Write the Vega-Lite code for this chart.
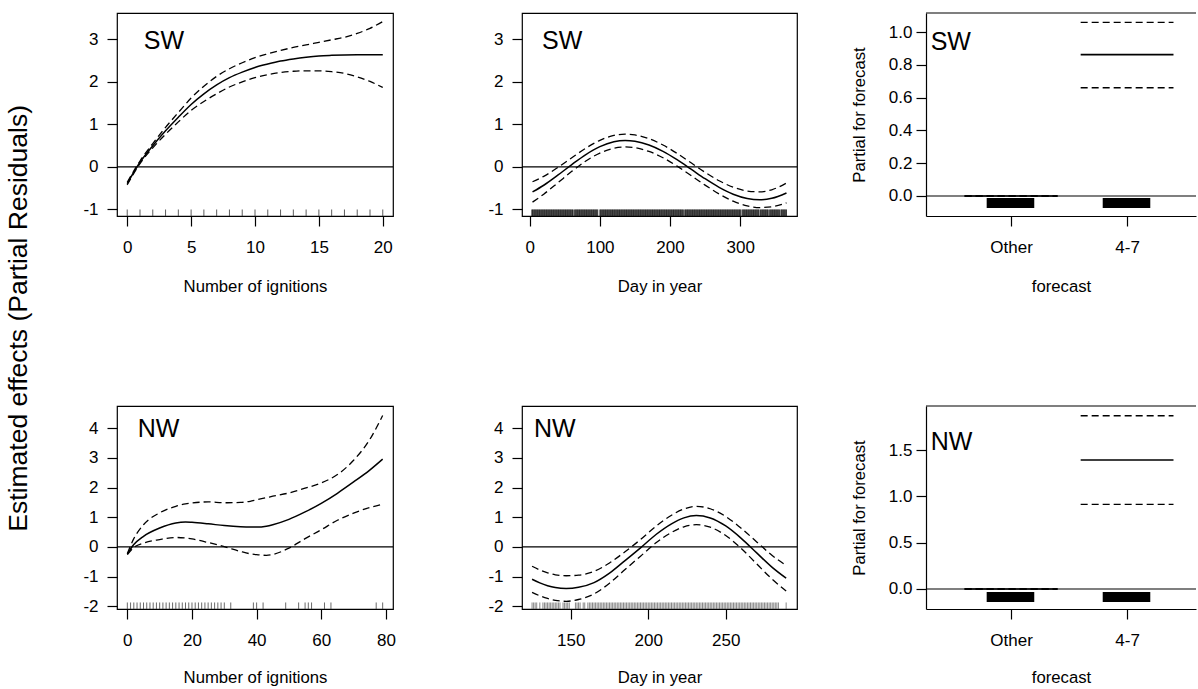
{
 "$schema": "https://vega.github.io/schema/vega-lite/v6.json",
 "padding": {"left": 5, "top": 12, "right": 0, "bottom": 0},
 "title": {"text": "Estimated effects (Partial Residuals)", "orient": "left", "anchor": "middle", "fontSize": 26.5, "font": "Liberation Sans", "fontWeight": "normal", "color": "black", "offset": 50, "dx": 31},
 "config": {
  "view": {"stroke": "black", "strokeWidth": 1.2},
  "axis": {"labelFont": "Liberation Sans", "titleFont": "Liberation Sans", "labelFontSize": 17, "titleFontSize": 16.7, "titleFontWeight": "normal", "labelColor": "black", "titleColor": "black", "tickColor": "black", "tickSize": 10, "tickWidth": 1.2, "grid": false, "domain": false, "domainColor": "black", "domainWidth": 1.2, "tickCount": 12},
  "axisX": {"labelPadding": 13, "titlePadding": 23, "labelFlush": false, "labelOverlap": false},
  "axisY": {"labelPadding": 9, "titlePadding": 22, "labelOverlap": false}
 },
 "columns": 3,
 "spacing": {"row": 190, "column": 129},
 "bounds": "flush",
 "align": "each",
 "concat": [
   {"width": 276, "height": 203,
    "layer": [
     {"data": {"values": [
       {"x":0,"fit":-0.39,"upper":-0.36,"lower":-0.42},{"x":1,"fit":0.11,"upper":0.14,"lower":0.08},{"x":2,"fit":0.50,"upper":0.55,"lower":0.45},{"x":3,"fit":0.85,"upper":0.93,"lower":0.77},{"x":4,"fit":1.17,"upper":1.28,"lower":1.06},{"x":5,"fit":1.47,"upper":1.62,"lower":1.33},{"x":6,"fit":1.72,"upper":1.90,"lower":1.54},{"x":7,"fit":1.93,"upper":2.13,"lower":1.72},{"x":8,"fit":2.10,"upper":2.31,"lower":1.88},{"x":9,"fit":2.23,"upper":2.45,"lower":2.00},{"x":10,"fit":2.34,"upper":2.57,"lower":2.10},{"x":11,"fit":2.42,"upper":2.66,"lower":2.17},{"x":12,"fit":2.49,"upper":2.74,"lower":2.22},{"x":13,"fit":2.54,"upper":2.81,"lower":2.25},{"x":14,"fit":2.58,"upper":2.87,"lower":2.26},{"x":15,"fit":2.61,"upper":2.93,"lower":2.26},{"x":16,"fit":2.625,"upper":2.99,"lower":2.24},{"x":17,"fit":2.635,"upper":3.05,"lower":2.20},{"x":18,"fit":2.64,"upper":3.14,"lower":2.12},{"x":19,"fit":2.64,"upper":3.26,"lower":2.01},{"x":20,"fit":2.64,"upper":3.42,"lower":1.87}]},
      "layer": [
       {"mark": {"type": "line", "color": "black", "strokeWidth": 1.5, "interpolate": "monotone"},
        "encoding": {"x": {"field": "x", "type": "quantitative", "scale": {"domain": [-0.8, 20.8], "nice": false, "zero": false}, "axis": {"values": [0,5,10,15,20], "title": "Number of ignitions"}},
                     "y": {"field": "fit", "type": "quantitative", "scale": {"domain": [-1.153, 3.62], "nice": false, "zero": false}, "axis": {"values": [-1,0,1,2,3], "tickCount": 12, "labelExpr": "'' + datum.value", "title": null}}}},
       {"mark": {"type": "line", "color": "black", "strokeWidth": 1.3, "strokeDash": [7,4], "interpolate": "monotone"},
        "encoding": {"x": {"field": "x", "type": "quantitative"}, "y": {"field": "upper", "type": "quantitative"}}},
       {"mark": {"type": "line", "color": "black", "strokeWidth": 1.3, "strokeDash": [7,4], "interpolate": "monotone"},
        "encoding": {"x": {"field": "x", "type": "quantitative"}, "y": {"field": "lower", "type": "quantitative"}}}
      ]},
     {"data": {"values": [{}]}, "mark": {"type": "rule", "color": "black", "strokeWidth": 1.2}, "encoding": {"y": {"datum": 0}}},
     {"data": {"values": [0,1,2,3,4,5,6,7,8,9,10,11,12,13,14,15,16,17,18,19,20]},
      "mark": {"type": "rule", "color": "#333", "strokeWidth": 0.8},
      "encoding": {"x": {"field": "data", "type": "quantitative"}, "y": {"datum": -1.153}, "y2": {"datum": -1.0}}},
     {"data": {"values": [{}]}, "mark": {"type": "text", "align": "left", "baseline": "alphabetic", "font": "Liberation Sans", "fontSize": 25, "color": "black"},
      "encoding": {"x": {"datum": 1.3}, "y": {"datum": 2.78}, "text": {"value": "SW"}}}
    ]},
   {"width": 275, "height": 203,
    "layer": [
     {"data": {"values": [
       {"x":4,"fit":-0.587,"upper":-0.347,"lower":-0.827},{"x":20,"fit":-0.43,"upper":-0.22,"lower":-0.64},{"x":40,"fit":-0.194,"upper":-0.014,"lower":-0.374},{"x":60,"fit":0.057,"upper":0.217,"lower":-0.103},{"x":80,"fit":0.291,"upper":0.441,"lower":0.141},{"x":100,"fit":0.477,"upper":0.627,"lower":0.327},{"x":120,"fit":0.591,"upper":0.741,"lower":0.441},{"x":136,"fit":0.62,"upper":0.77,"lower":0.47},{"x":150,"fit":0.602,"upper":0.752,"lower":0.452},{"x":170,"fit":0.515,"upper":0.665,"lower":0.365},{"x":190,"fit":0.366,"upper":0.516,"lower":0.216},{"x":210,"fit":0.17,"upper":0.32,"lower":0.02},{"x":230,"fit":-0.052,"upper":0.098,"lower":-0.202},{"x":250,"fit":-0.277,"upper":-0.127,"lower":-0.427},{"x":270,"fit":-0.479,"upper":-0.324,"lower":-0.634},{"x":290,"fit":-0.64,"upper":-0.475,"lower":-0.805},{"x":310,"fit":-0.74,"upper":-0.565,"lower":-0.915},{"x":328,"fit":-0.77,"upper":-0.585,"lower":-0.955},{"x":345,"fit":-0.737,"upper":-0.537,"lower":-0.937},{"x":366,"fit":-0.611,"upper":-0.376,"lower":-0.846}]},
      "layer": [
       {"mark": {"type": "line", "color": "black", "strokeWidth": 1.5, "interpolate": "monotone"},
        "encoding": {"x": {"field": "x", "type": "quantitative", "scale": {"domain": [-11, 381], "nice": false, "zero": false}, "axis": {"values": [0,100,200,300], "title": "Day in year"}},
                     "y": {"field": "fit", "type": "quantitative", "scale": {"domain": [-1.153, 3.62], "nice": false, "zero": false}, "axis": {"values": [-1,0,1,2,3], "tickCount": 12, "labelExpr": "'' + datum.value", "title": null}}}},
       {"mark": {"type": "line", "color": "black", "strokeWidth": 1.3, "strokeDash": [7,4], "interpolate": "monotone"},
        "encoding": {"x": {"field": "x", "type": "quantitative"}, "y": {"field": "upper", "type": "quantitative"}}},
       {"mark": {"type": "line", "color": "black", "strokeWidth": 1.3, "strokeDash": [7,4], "interpolate": "monotone"},
        "encoding": {"x": {"field": "x", "type": "quantitative"}, "y": {"field": "lower", "type": "quantitative"}}}
      ]},
     {"data": {"values": [{}]}, "mark": {"type": "rule", "color": "black", "strokeWidth": 1.2}, "encoding": {"y": {"datum": 0}}},
     {"data": {"values": [3,4,5,6,7,8,9,10,11,12,13,14,15,16,17,18,19,20,21,22,23,24,25,26,27,28,29,30,31,32,33,34,35,36,37,38,39,40,41,42,43,44,45,46,47,48,49,50,51,52,53,54,55,56,57,58,59,60,61,62,64,65,66,67,68,69,70,71,72,73,74,75,76,77,78,79,80,81,82,83,84,85,86,87,88,89,90,91,92,93,94,95,96,97,100,101,102,103,104,105,106,107,108,109,110,111,112,113,114,115,116,117,118,119,120,121,122,123,124,125,126,127,128,129,130,131,132,133,134,135,136,137,138,139,140,141,142,143,144,145,146,147,148,149,150,151,152,153,154,155,156,157,158,159,160,161,162,163,164,165,166,167,168,169,170,171,172,173,174,175,176,177,178,179,180,181,182,183,184,185,186,187,188,189,190,191,192,193,194,195,196,197,198,199,200,201,202,203,204,205,206,207,208,209,210,211,212,213,214,215,216,217,218,219,221,222,223,224,225,226,227,228,229,230,231,232,233,234,235,236,237,238,239,240,241,242,243,244,245,246,247,248,249,250,251,252,253,254,255,256,257,258,259,260,261,262,263,264,265,266,267,268,269,270,271,272,273,274,275,276,277,278,279,280,281,282,283,284,285,286,287,288,289,290,291,292,293,294,295,296,297,298,299,300,301,303,304,305,306,307,308,309,310,311,312,313,314,315,316,317,318,319,320,321,322,323,324,325,326,327,329,330,331,332,333,334,335,336,337,338,339,340,342,343,344,345,346,347,348,349,350,351,352,353,354,355,356,358,359,360,361,362,363,364,365,366]},
      "mark": {"type": "rule", "color": "#111", "strokeWidth": 0.8},
      "encoding": {"x": {"field": "data", "type": "quantitative"}, "y": {"datum": -1.153}, "y2": {"datum": -1.0}}},
     {"data": {"values": [{}]}, "mark": {"type": "text", "align": "left", "baseline": "alphabetic", "font": "Liberation Sans", "fontSize": 25, "color": "black"},
      "encoding": {"x": {"datum": 17.5}, "y": {"datum": 2.78}, "text": {"value": "SW"}}}
    ]},
   {"width": 270, "height": 203, "view": {"stroke": null},
    "layer": [
     {"data": {"values": [{"level":"Other","xlo":0.6,"xhi":1.4,"fit":0,"upper":0,"lower":0,"jlo":0.79,"jhi":1.2},{"level":"4-7","xlo":1.6,"xhi":2.4,"fit":0.862,"upper":1.059,"lower":0.66,"jlo":1.79,"jhi":2.2}]},
      "layer": [
       {"mark": {"type": "rule", "color": "black", "strokeWidth": 1.6},
        "encoding": {"x": {"field": "xlo", "type": "quantitative", "scale": {"domain": [0.267, 2.594], "nice": false, "zero": false}, "axis": {"values": [1,2], "labelExpr": "datum.value == 1 ? 'Other' : '4-7'", "title": "forecast", "domain": true}},
                     "x2": {"field": "xhi"},
                     "y": {"field": "fit", "type": "quantitative", "scale": {"domain": [-0.122, 1.116], "nice": false, "zero": false}, "axis": {"values": [0,0.2,0.4,0.6,0.8,1.0], "tickCount": 12, "format": ".1f", "title": "Partial for forecast", "domain": true, "labelPadding": 4, "titlePadding": 20}}}},
       {"mark": {"type": "rule", "color": "black", "strokeWidth": 1.3, "strokeDash": [7,4]},
        "encoding": {"x": {"field": "xlo", "type": "quantitative"}, "x2": {"field": "xhi"}, "y": {"field": "upper", "type": "quantitative"}}},
       {"mark": {"type": "rule", "color": "black", "strokeWidth": 1.3, "strokeDash": [7,4]},
        "encoding": {"x": {"field": "xlo", "type": "quantitative"}, "x2": {"field": "xhi"}, "y": {"field": "lower", "type": "quantitative"}}},
       {"mark": {"type": "rect", "color": "black"},
        "encoding": {"x": {"field": "jlo", "type": "quantitative"}, "x2": {"field": "jhi"}, "y": {"datum": -0.012}, "y2": {"datum": -0.073}}}
      ]},
     {"data": {"values": [{}]}, "mark": {"type": "rule", "color": "black", "strokeWidth": 1.2}, "encoding": {"y": {"datum": 0}}},
     {"data": {"values": [{}]}, "mark": {"type": "rule", "color": "black", "strokeWidth": 1.2}, "encoding": {"y": {"datum": 1.116}}},
     {"data": {"values": [{}]}, "mark": {"type": "text", "align": "left", "baseline": "alphabetic", "font": "Liberation Sans", "fontSize": 25, "color": "black"},
      "encoding": {"x": {"datum": 0.307}, "y": {"datum": 0.89}, "text": {"value": "SW"}}}
    ]},
   {"width": 276, "height": 203,
    "layer": [
     {"data": {"values": [
       {"x":0,"fit":-0.24,"upper":-0.22,"lower":-0.26},{"x":2,"fit":0.08,"upper":0.28,"lower":-0.02},{"x":5,"fit":0.36,"upper":0.75,"lower":0.13},{"x":10,"fit":0.64,"upper":1.15,"lower":0.25},{"x":15,"fit":0.81,"upper":1.37,"lower":0.32},{"x":18,"fit":0.84,"upper":1.45,"lower":0.30},{"x":20,"fit":0.83,"upper":1.48,"lower":0.27},{"x":25,"fit":0.78,"upper":1.52,"lower":0.15},{"x":30,"fit":0.72,"upper":1.49,"lower":0.01},{"x":35,"fit":0.68,"upper":1.50,"lower":-0.15},{"x":38,"fit":0.67,"upper":1.54,"lower":-0.23},{"x":40,"fit":0.67,"upper":1.59,"lower":-0.26},{"x":43,"fit":0.70,"upper":1.66,"lower":-0.28},{"x":45,"fit":0.75,"upper":1.71,"lower":-0.25},{"x":50,"fit":0.93,"upper":1.82,"lower":-0.04},{"x":55,"fit":1.18,"upper":1.98,"lower":0.28},{"x":60,"fit":1.47,"upper":2.16,"lower":0.58},{"x":65,"fit":1.81,"upper":2.44,"lower":0.90},{"x":70,"fit":2.19,"upper":2.92,"lower":1.14},{"x":75,"fit":2.59,"upper":3.62,"lower":1.33},{"x":79,"fit":2.96,"upper":4.43,"lower":1.44}]},
      "layer": [
       {"mark": {"type": "line", "color": "black", "strokeWidth": 1.5, "interpolate": "monotone"},
        "encoding": {"x": {"field": "x", "type": "quantitative", "scale": {"domain": [-3.2, 82.2], "nice": false, "zero": false}, "axis": {"values": [0,20,40,60,80], "title": "Number of ignitions", "titlePadding": 21}},
                     "y": {"field": "fit", "type": "quantitative", "scale": {"domain": [-2.09, 4.75], "nice": false, "zero": false}, "axis": {"values": [-2,-1,0,1,2,3,4], "tickCount": 12, "labelExpr": "'' + datum.value", "title": null}}}},
       {"mark": {"type": "line", "color": "black", "strokeWidth": 1.3, "strokeDash": [7,4], "interpolate": "monotone"},
        "encoding": {"x": {"field": "x", "type": "quantitative"}, "y": {"field": "upper", "type": "quantitative"}}},
       {"mark": {"type": "line", "color": "black", "strokeWidth": 1.3, "strokeDash": [7,4], "interpolate": "monotone"},
        "encoding": {"x": {"field": "x", "type": "quantitative"}, "y": {"field": "lower", "type": "quantitative"}}}
      ]},
     {"data": {"values": [{}]}, "mark": {"type": "rule", "color": "black", "strokeWidth": 1.2}, "encoding": {"y": {"datum": 0}}},
     {"data": {"values": [0,1,2,3,4,5,6,7,8,9,10,11,12,13,14,15,16,17,18,19,20,21,22,23,24,25,26,27,28,29,30,32,39,40,42,49,53,55,56,57,61,63,77,79]},
      "mark": {"type": "rule", "color": "#444", "strokeWidth": 0.8},
      "encoding": {"x": {"field": "data", "type": "quantitative"}, "y": {"datum": -2.09}, "y2": {"datum": -1.87}}},
     {"data": {"values": [{}]}, "mark": {"type": "text", "align": "left", "baseline": "alphabetic", "font": "Liberation Sans", "fontSize": 25, "color": "black"},
      "encoding": {"x": {"datum": 3.2}, "y": {"datum": 3.7}, "text": {"value": "NW"}}}
    ]},
   {"width": 275, "height": 203,
    "layer": [
     {"data": {"values": [
       {"x":125,"fit":-1.089,"upper":-0.649,"lower":-1.529},{"x":130,"fit":-1.211,"upper":-0.776,"lower":-1.646},{"x":135,"fit":-1.304,"upper":-0.874,"lower":-1.734},{"x":140,"fit":-1.367,"upper":-0.937,"lower":-1.797},{"x":147,"fit":-1.40,"upper":-0.97,"lower":-1.83},{"x":155,"fit":-1.36,"upper":-0.95,"lower":-1.77},{"x":165,"fit":-1.20,"upper":-0.82,"lower":-1.58},{"x":175,"fit":-0.88,"upper":-0.54,"lower":-1.22},{"x":185,"fit":-0.46,"upper":-0.16,"lower":-0.76},{"x":195,"fit":-0.03,"upper":0.25,"lower":-0.31},{"x":205,"fit":0.42,"upper":0.70,"lower":0.14},{"x":215,"fit":0.78,"upper":1.07,"lower":0.49},{"x":223,"fit":0.98,"upper":1.28,"lower":0.68},{"x":231,"fit":1.06,"upper":1.37,"lower":0.75},{"x":240,"fit":0.978,"upper":1.288,"lower":0.668},{"x":250,"fit":0.707,"upper":1.027,"lower":0.387},{"x":260,"fit":0.291,"upper":0.631,"lower":-0.049},{"x":270,"fit":-0.20,"upper":0.17,"lower":-0.57},{"x":280,"fit":-0.687,"upper":-0.287,"lower":-1.087},{"x":289,"fit":-1.053,"upper":-0.623,"lower":-1.483}]},
      "layer": [
       {"mark": {"type": "line", "color": "black", "strokeWidth": 1.5, "interpolate": "monotone"},
        "encoding": {"x": {"field": "x", "type": "quantitative", "scale": {"domain": [118.5, 296], "nice": false, "zero": false}, "axis": {"values": [150,200,250], "title": "Day in year", "titlePadding": 21}},
                     "y": {"field": "fit", "type": "quantitative", "scale": {"domain": [-2.09, 4.75], "nice": false, "zero": false}, "axis": {"values": [-2,-1,0,1,2,3,4], "tickCount": 12, "labelExpr": "'' + datum.value", "title": null}}}},
       {"mark": {"type": "line", "color": "black", "strokeWidth": 1.3, "strokeDash": [7,4], "interpolate": "monotone"},
        "encoding": {"x": {"field": "x", "type": "quantitative"}, "y": {"field": "upper", "type": "quantitative"}}},
       {"mark": {"type": "line", "color": "black", "strokeWidth": 1.3, "strokeDash": [7,4], "interpolate": "monotone"},
        "encoding": {"x": {"field": "x", "type": "quantitative"}, "y": {"field": "lower", "type": "quantitative"}}}
      ]},
     {"data": {"values": [{}]}, "mark": {"type": "rule", "color": "black", "strokeWidth": 1.2}, "encoding": {"y": {"datum": 0}}},
     {"data": {"values": [125,126,127,128,130,132,133,134,135,136,137,138,139,140,141,142,143,145,146,147,148,149,153,154,155,156,158,159,161,162,163,164,165,166,167,168,169,170,171,172,173,174,175,176,177,178,179,180,181,182,183,184,185,186,187,188,189,190,191,192,193,194,195,196,197,198,199,200,201,202,203,204,205,206,207,208,209,210,211,212,213,214,215,216,217,218,219,220,221,222,223,224,225,226,227,228,229,230,231,232,233,234,235,236,237,238,239,240,241,242,243,244,245,246,247,248,249,250,251,252,253,254,255,256,257,258,259,260,261,262,263,264,265,266,267,268,269,270,271,272,273,274,275,276,277,278,279,280,281,282,283,284,289]},
      "mark": {"type": "rule", "color": "#555", "strokeWidth": 0.7},
      "encoding": {"x": {"field": "data", "type": "quantitative"}, "y": {"datum": -2.09}, "y2": {"datum": -1.87}}},
     {"data": {"values": [{}]}, "mark": {"type": "text", "align": "left", "baseline": "alphabetic", "font": "Liberation Sans", "fontSize": 25, "color": "black"},
      "encoding": {"x": {"datum": 126.2}, "y": {"datum": 3.7}, "text": {"value": "NW"}}}
    ]},
   {"width": 270, "height": 203, "view": {"stroke": null},
    "layer": [
     {"data": {"values": [{"level":"Other","xlo":0.6,"xhi":1.4,"fit":0,"upper":0,"lower":0,"jlo":0.79,"jhi":1.2},{"level":"4-7","xlo":1.6,"xhi":2.4,"fit":1.392,"upper":1.87,"lower":0.914,"jlo":1.79,"jhi":2.2}]},
      "layer": [
       {"mark": {"type": "rule", "color": "black", "strokeWidth": 1.6},
        "encoding": {"x": {"field": "xlo", "type": "quantitative", "scale": {"domain": [0.267, 2.594], "nice": false, "zero": false}, "axis": {"values": [1,2], "labelExpr": "datum.value == 1 ? 'Other' : '4-7'", "title": "forecast", "domain": true, "titlePadding": 21}},
                     "x2": {"field": "xhi"},
                     "y": {"field": "fit", "type": "quantitative", "scale": {"domain": [-0.216, 1.975], "nice": false, "zero": false}, "axis": {"values": [0,0.5,1.0,1.5], "tickCount": 12, "format": ".1f", "title": "Partial for forecast", "domain": true, "labelPadding": 4, "titlePadding": 20}}}},
       {"mark": {"type": "rule", "color": "black", "strokeWidth": 1.3, "strokeDash": [7,4]},
        "encoding": {"x": {"field": "xlo", "type": "quantitative"}, "x2": {"field": "xhi"}, "y": {"field": "upper", "type": "quantitative"}}},
       {"mark": {"type": "rule", "color": "black", "strokeWidth": 1.3, "strokeDash": [7,4]},
        "encoding": {"x": {"field": "xlo", "type": "quantitative"}, "x2": {"field": "xhi"}, "y": {"field": "lower", "type": "quantitative"}}},
       {"mark": {"type": "rect", "color": "black"},
        "encoding": {"x": {"field": "jlo", "type": "quantitative"}, "x2": {"field": "jhi"}, "y": {"datum": -0.032}, "y2": {"datum": -0.14}}}
      ]},
     {"data": {"values": [{}]}, "mark": {"type": "rule", "color": "black", "strokeWidth": 1.2}, "encoding": {"y": {"datum": 0}}},
     {"data": {"values": [{}]}, "mark": {"type": "rule", "color": "black", "strokeWidth": 1.2}, "encoding": {"y": {"datum": 1.975}}},
     {"data": {"values": [{}]}, "mark": {"type": "text", "align": "left", "baseline": "alphabetic", "font": "Liberation Sans", "fontSize": 25, "color": "black"},
      "encoding": {"x": {"datum": 0.307}, "y": {"datum": 1.5}, "text": {"value": "NW"}}}
    ]}
 ]
}
